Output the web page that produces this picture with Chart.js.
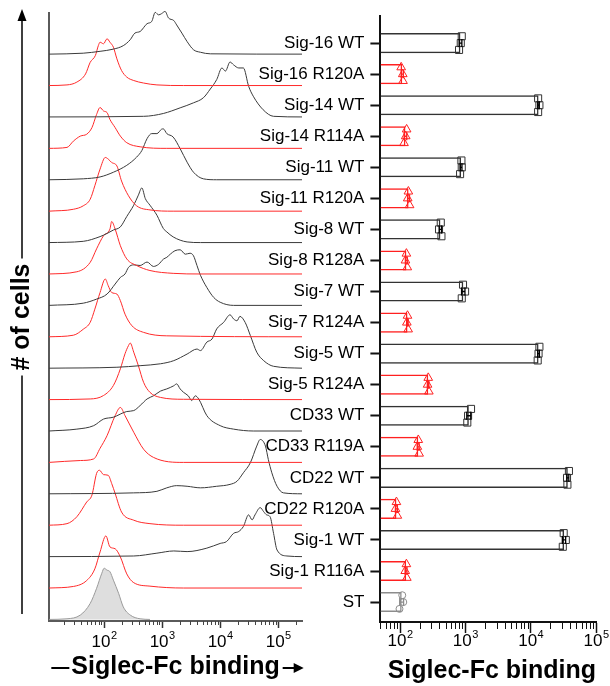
<!DOCTYPE html>
<html>
<head>
<meta charset="utf-8">
<script src="https://cdn.jsdelivr.net/npm/chart.js@4.4.1/dist/chart.umd.min.js"></script>
<style>
  body { margin: 0; background: #fff; }
  #wrap { position: relative; width: 610px; height: 686px; }
  #hist { position: absolute; left: 0; top: 0; }
  #bars { position: absolute; left: 230px; top: 0; }
</style>
</head>
<body>
<div id="wrap">
  <canvas id="hist" width="310" height="686"></canvas>
  <canvas id="bars" width="380" height="686"></canvas>
</div>
<script>
const FONT = '"Liberation Sans", Arial, Helvetica, sans-serif';
Chart.defaults.font.family = FONT;
Chart.defaults.color = '#000';

// rows, top to bottom
const categories = ['Sig-16 WT', 'Sig-16 R120A', 'Sig-14 WT', 'Sig-14 R114A', 'Sig-11 WT', 'Sig-11 R120A',
  'Sig-8 WT', 'Sig-8 R128A', 'Sig-7 WT', 'Sig-7 R124A', 'Sig-5 WT', 'Sig-5 R124A',
  'CD33 WT', 'CD33 R119A', 'CD22 WT', 'CD22 R120A', 'Sig-1 WT', 'Sig-1 R116A', 'ST'];

// bar chart: mean binding and the three replicates
const meanBinding = [840, 108, 13200, 121, 860, 135, 415, 125, 930, 130, 13200, 270, 1130, 190, 37000, 88, 32500, 124, 106];
const rep1 = [880, 104, 13000, 126, 870, 134, 420, 125, 920, 130, 13600, 270, 1220, 190, 38500, 88, 32000, 125, 108];
const rep2 = [850, 110, 13600, 122, 880, 131, 395, 121, 990, 127, 13200, 264, 1100, 184, 36000, 85, 34500, 120, 112];
const rep3 = [800, 111, 13000, 115, 830, 140, 430, 129, 880, 133, 12800, 276, 1070, 196, 36500, 91, 31000, 127, 98];

// tick labels (powers of ten)
const histTickExponents = [2, 3, 4, 5];
const barTickExponents = [2, 3, 4, 5];

// histograms: [log10 intensity, height in row units]
const histSig16WT = [[1.05,0],[1.64,0.03],[1.93,0.09],[2.16,0.16],[2.33,0.27],[2.45,0.46],[2.53,0.67],[2.62,0.72],[2.74,0.97],[2.82,1.04],[2.88,1.33],[2.94,1.25],[2.99,1.29],[3.05,1.36],[3.11,1.15],[3.20,1.07],[3.25,0.93],[3.34,0.67],[3.43,0.40],[3.54,0.14],[3.66,0.06],[3.83,0.01],[5.41,0]];
const histSig16R120A = [[1.05,0],[1.36,0.02],[1.53,0.11],[1.68,0.37],[1.76,0.74],[1.85,0.96],[1.90,1.27],[1.93,1.38],[1.99,1.33],[2.05,1.49],[2.10,1.38],[2.16,1.22],[2.22,0.85],[2.30,0.48],[2.39,0.27],[2.51,0.16],[2.68,0.08],[2.91,0.02],[3.37,0],[5.41,0]];
const histSig14WT = [[1.05,0],[2.68,0.02],[3.02,0.11],[3.31,0.29],[3.54,0.45],[3.71,0.61],[3.83,0.89],[3.94,1.19],[4.03,1.56],[4.09,1.46],[4.17,1.75],[4.23,1.66],[4.32,1.56],[4.40,1.56],[4.49,0.98],[4.57,0.66],[4.74,0.23],[4.92,0.02],[5.41,0]];
const histSig14R114A = [[1.05,0],[1.36,0.03],[1.47,0.23],[1.59,0.39],[1.70,0.45],[1.79,0.66],[1.87,1.08],[1.93,1.30],[1.99,1.19],[2.05,1.14],[2.10,0.92],[2.19,0.66],[2.28,0.39],[2.39,0.18],[2.62,0.05],[3.08,0],[5.41,0]];
const histSig11WT = [[1.05,0],[1.64,0.03],[1.93,0.09],[2.16,0.24],[2.39,0.46],[2.56,0.72],[2.65,0.93],[2.74,1.31],[2.82,1.47],[2.91,1.47],[2.99,1.61],[3.02,1.62],[3.08,1.47],[3.19,1.36],[3.31,0.99],[3.43,0.56],[3.54,0.24],[3.71,0.03],[3.94,0],[5.41,0]];
const histSig11R120A = [[1.05,0],[1.47,0.06],[1.64,0.17],[1.76,0.38],[1.84,0.81],[1.93,1.34],[2.02,1.71],[2.07,1.66],[2.13,1.55],[2.22,1.44],[2.30,0.96],[2.42,0.49],[2.56,0.17],[2.79,0.04],[3.19,0],[5.41,0]];
const histSig8WT = [[1.05,0],[1.64,0.04],[1.93,0.19],[2.05,0.29],[2.16,0.40],[2.28,0.50],[2.39,0.83],[2.51,1.19],[2.59,1.51],[2.65,1.74],[2.71,1.40],[2.79,1.19],[2.91,0.87],[3.02,0.45],[3.08,0.34],[3.19,0.18],[3.43,0.02],[3.66,0],[5.41,0]];
const histSig8R128A = [[1.05,0],[1.53,0.07],[1.76,0.37],[1.87,0.80],[1.99,1.22],[2.10,1.43],[2.13,1.67],[2.19,1.43],[2.28,0.90],[2.39,0.48],[2.56,0.27],[2.79,0.11],[3.19,0.02],[3.66,0],[5.41,0]];
const histSig7WT = [[1.05,0],[1.64,0.07],[1.87,0.20],[2.05,0.36],[2.19,0.68],[2.28,0.89],[2.36,1.00],[2.42,1.21],[2.51,1.29],[2.62,1.27],[2.74,1.38],[2.85,1.24],[2.94,1.31],[3.02,1.47],[3.08,1.53],[3.14,1.63],[3.22,1.74],[3.31,1.77],[3.40,1.63],[3.48,1.66],[3.54,1.58],[3.60,1.27],[3.66,0.96],[3.77,0.57],[3.89,0.25],[4.00,0.10],[4.23,0],[5.41,0]];
const histSig7R124A = [[1.05,0],[1.47,0.05],[1.64,0.24],[1.76,0.46],[1.84,0.88],[1.93,1.41],[2.02,1.84],[2.07,1.63],[2.13,1.41],[2.22,1.36],[2.28,1.15],[2.36,0.72],[2.48,0.35],[2.68,0.14],[3.08,0.03],[5.41,0]];
const histSig5WT = [[1.05,0],[2.22,0.03],[2.62,0.08],[2.97,0.14],[3.20,0.24],[3.43,0.45],[3.60,0.61],[3.66,0.56],[3.77,0.83],[3.86,0.93],[3.94,1.25],[4.06,1.46],[4.17,1.70],[4.23,1.57],[4.29,1.51],[4.34,1.65],[4.43,1.46],[4.52,1.04],[4.63,0.51],[4.75,0.24],[4.92,0.06],[5.41,0]];
const histSig5R124A = [[1.05,0],[1.76,0.02],[1.99,0.13],[2.16,0.45],[2.28,0.98],[2.36,1.46],[2.42,1.72],[2.45,1.80],[2.51,1.51],[2.59,1.08],[2.68,0.55],[2.79,0.23],[2.97,0.07],[3.37,0.01],[5.41,0]];
const histCD33WT = [[1.05,0],[1.53,0.06],[1.82,0.17],[1.99,0.38],[2.16,0.44],[2.39,0.62],[2.51,0.65],[2.62,0.81],[2.74,1.02],[2.85,1.12],[2.97,1.27],[3.08,1.34],[3.20,1.44],[3.25,1.50],[3.31,1.34],[3.37,1.23],[3.45,1.12],[3.51,0.97],[3.57,1.12],[3.63,1.02],[3.77,0.49],[4.00,0.17],[4.23,0.06],[4.57,0],[5.41,0]];
const histCD33R119A = [[1.05,0],[1.59,0.06],[1.82,0.11],[1.93,0.45],[2.05,0.85],[2.19,1.49],[2.28,1.75],[2.36,1.49],[2.51,0.96],[2.68,0.42],[2.85,0.16],[3.37,0],[5.41,0]];
const histCD22WT = [[1.05,0],[2.51,0.03],[2.91,0.08],[3.08,0.19],[3.25,0.26],[3.43,0.24],[3.66,0.19],[3.94,0.24],[4.17,0.30],[4.29,0.40],[4.40,0.67],[4.52,0.99],[4.63,1.52],[4.69,1.73],[4.78,1.52],[4.83,1.09],[4.89,0.67],[4.98,0.24],[5.09,0.03],[5.41,0]];
const histCD22R120A = [[1.05,0],[1.36,0.05],[1.53,0.27],[1.70,0.74],[1.79,0.96],[1.87,1.65],[1.92,1.75],[1.99,1.61],[2.07,1.59],[2.13,1.33],[2.19,1.01],[2.30,0.42],[2.51,0.16],[2.79,0.05],[3.37,0],[5.41,0]];
const histSig1WT = [[1.05,0],[2.51,0.02],[2.91,0.11],[3.20,0.18],[3.43,0.16],[3.77,0.27],[4.00,0.42],[4.11,0.48],[4.23,0.74],[4.32,0.80],[4.40,0.96],[4.49,1.33],[4.55,1.17],[4.60,1.33],[4.69,1.56],[4.75,1.43],[4.80,1.33],[4.86,1.27],[4.92,0.74],[4.98,0.21],[5.15,0.02],[5.41,0]];
const histSig1R116A = [[1.05,0],[1.47,0.05],[1.70,0.24],[1.84,0.61],[1.93,1.15],[2.03,1.66],[2.10,1.31],[2.19,1.25],[2.28,0.99],[2.39,0.45],[2.51,0.17],[2.79,0.06],[3.37,0],[5.41,0]];
const histST = [[1.05,0],[1.36,0.02],[1.59,0.14],[1.76,0.51],[1.87,0.99],[1.96,1.47],[2.00,1.63],[2.05,1.57],[2.10,1.52],[2.16,1.25],[2.25,0.83],[2.33,0.40],[2.45,0.14],[2.62,0.02],[2.79,0]];

const histograms = [histSig16WT, histSig16R120A, histSig14WT, histSig14R114A, histSig11WT, histSig11R120A,
  histSig8WT, histSig8R128A, histSig7WT, histSig7R124A, histSig5WT, histSig5R124A,
  histCD33WT, histCD33R119A, histCD22WT, histCD22R120A, histSig1WT, histSig1R116A, histST];

const BLACK = '#333', RED = '#ff2020', GREY = '#8c8c8c';
const markColor = name => name === 'ST' ? GREY : name.endsWith('WT') ? BLACK : RED;
const markStyle = name => name === 'ST' ? 'circle' : name.endsWith('WT') ? 'rect' : 'triangle';

// "10" with a raised exponent under each major tick
const decadeLabels = {
  id: 'decadeLabels',
  afterDraw(chart, args, opts) {
    const {ctx} = chart;
    const scale = chart.scales.x;
    ctx.save();
    ctx.fillStyle = '#000';
    ctx.textBaseline = 'alphabetic';
    ctx.textAlign = 'left';
    opts.exponents.forEach(e => {
      const x = scale.getPixelForValue(opts.logUnits ? e : Math.pow(10, e));
      ctx.font = '17px ' + FONT;
      const wb = ctx.measureText('10').width;
      ctx.font = '11px ' + FONT;
      const we = ctx.measureText(String(e)).width;
      const left = x - (wb + we) / 2;
      ctx.font = '17px ' + FONT;
      ctx.fillText('10', left, opts.baseline);
      ctx.font = '11px ' + FONT;
      ctx.fillText(String(e), left + wb + 0.5, opts.baseline - 8);
    });
    ctx.restore();
  }
};

// short minor tick marks at 2..9 x 10^n
const minorTicks = {
  id: 'minorTicks',
  afterDraw(chart, args, opts) {
    const {ctx} = chart;
    const scale = chart.scales.x;
    const y0 = scale.top;
    ctx.save();
    ctx.strokeStyle = opts.color;
    ctx.lineWidth = 1;
    for (let n = 0; n <= 5; n++) {
      for (let k = 2; k <= 9; k++) {
        const v = opts.logUnits ? n + Math.log10(k) : k * Math.pow(10, n);
        if (v < scale.min || v > scale.max) continue;
        const x = Math.round(scale.getPixelForValue(v)) + 0.5;
        ctx.beginPath();
        ctx.moveTo(x, y0);
        ctx.lineTo(x, y0 + opts.length);
        ctx.stroke();
      }
    }
    ctx.restore();
  }
};

// the vertical arrow around "# of cells" and the dash / arrow around the x title
const axisArrows = {
  id: 'axisArrows',
  afterDraw(chart, args, opts) {
    const {ctx, chartArea} = chart;
    const yt = chart.scales.y.options.title;
    const xs = chart.scales.x;
    const xt = xs.options.title;
    ctx.save();
    ctx.strokeStyle = '#000';
    ctx.fillStyle = '#000';
    ctx.font = 'bold ' + yt.font.size + 'px ' + FONT;
    const half = ctx.measureText(yt.text).width / 2 + 5;
    const cy = (chartArea.top + chartArea.bottom) / 2;
    const x = opts.x;
    ctx.lineWidth = 1.5;
    ctx.beginPath();
    ctx.moveTo(x, opts.top + 8);
    ctx.lineTo(x, cy - half);
    ctx.moveTo(x, cy + half);
    ctx.lineTo(x, opts.bottom);
    ctx.stroke();
    ctx.beginPath();
    ctx.moveTo(x, opts.top);
    ctx.lineTo(x - 4.5, opts.top + 12);
    ctx.lineTo(x + 4.5, opts.top + 12);
    ctx.closePath();
    ctx.fill();

    // horizontal title: thin dash before, arrow after
    ctx.font = 'bold ' + xt.font.size + 'px ' + FONT;
    const w = ctx.measureText(xt.text).width;
    const cx = (xs.left + xs.right) / 2;
    const ty = opts.titleY;
    const l = cx - w / 2, r = cx + w / 2;
    ctx.lineWidth = 2;
    ctx.beginPath();
    ctx.moveTo(l - 20, ty);
    ctx.lineTo(l - 2, ty);
    ctx.moveTo(r + 3, ty);
    ctx.lineTo(r + 17, ty);
    ctx.stroke();
    ctx.beginPath();
    ctx.moveTo(r + 24, ty);
    ctx.lineTo(r + 14, ty - 5);
    ctx.lineTo(r + 14, ty + 5);
    ctx.closePath();
    ctx.fill();
    ctx.restore();
  }
};

// mean +/- SD error bars for the replicates
const errorBars = {
  id: 'errorBars',
  afterDatasetsDraw(chart) {
    const {ctx} = chart;
    const xs = chart.scales.x, ys = chart.scales.y;
    ctx.save();
    ctx.lineWidth = 1.3;
    categories.forEach((name, i) => {
      const reps = [rep1[i], rep2[i], rep3[i]];
      const m = reps.reduce((a, b) => a + b, 0) / reps.length;
      const sd = Math.sqrt(reps.reduce((a, b) => a + (b - m) * (b - m), 0) / (reps.length - 1));
      const y = ys.getPixelForValue(i);
      const x1 = xs.getPixelForValue(m - sd), x2 = xs.getPixelForValue(m + sd);
      ctx.strokeStyle = name.endsWith('WT') ? '#000' : markColor(name);
      ctx.beginPath();
      ctx.moveTo(x1, y); ctx.lineTo(x2, y);
      ctx.moveTo(x1, y - 4); ctx.lineTo(x1, y + 4);
      ctx.moveTo(x2, y - 4); ctx.lineTo(x2, y + 4);
      ctx.stroke();
    });
    ctx.restore();
  }
};

// ---------- left panel: stacked histograms ----------
const histDatasets = histograms.map((pts, i) => {
  const base = categories.length - 1 - i;
  const name = categories[i];
  const isST = name === 'ST';
  return {
    data: pts.map(([lx, h]) => ({x: lx, y: base + h})),
    borderColor: isST ? '#9a9a9a' : name.endsWith('WT') ? '#3a3a3a' : '#ff2a2a',
    borderWidth: 1,
    backgroundColor: '#dedede',
    fill: isST ? {value: base} : false,
    pointRadius: 0,
    cubicInterpolationMode: 'monotone',
    clip: false
  };
});

new Chart(document.getElementById('hist'), {
  type: 'line',
  data: {datasets: histDatasets},
  options: {
    responsive: false,
    animation: false,
    layout: {padding: {top: 13, right: 8, left: 0, bottom: 0}},
    plugins: {
      legend: {display: false},
      tooltip: {enabled: false},
      decadeLabels: {exponents: histTickExponents, logUnits: true, baseline: 647},
      minorTicks: {logUnits: true, length: 4, color: '#444'},
      axisArrows: {x: 22, top: 9, bottom: 614, titleY: 668}
    },
    scales: {
      x: {
        type: 'linear', min: 1.05, max: 5.41,
        afterBuildTicks: s => { s.ticks = histTickExponents.map(v => ({value: v})); },
        afterFit: s => { s.height = 65; },
        ticks: {display: false},
        grid: {drawOnChartArea: false, tickLength: 7, tickColor: '#333', tickWidth: 1.5},
        border: {color: '#5a5a5a', width: 2},
        title: {display: true, text: 'Siglec-Fc binding', color: '#000',
          font: {size: 25, weight: 'bold'}, padding: {top: 0, bottom: 4}}
      },
      y: {
        type: 'linear', min: -0.05, max: 19.31,
        afterFit: s => { s.width = 49; },
        ticks: {display: false},
        grid: {drawOnChartArea: false, drawTicks: false},
        border: {color: '#5a5a5a', width: 2},
        title: {display: true, text: '# of cells', color: '#000',
          font: {size: 25, weight: 'bold'}, padding: {top: 7, bottom: 0}}
      }
    }
  },
  plugins: [decadeLabels, minorTicks, axisArrows]
});

// ---------- right panel: binding bars ----------
const rowJitter = [-0.22, 0, 0.22];
const pointSets = [rep1, rep2, rep3].map((rep, k) => ({
  type: 'scatter',
  data: rep.map((v, i) => ({x: v, y: i + rowJitter[k]})),
  pointStyle: categories.map(markStyle),
  pointRadius: categories.map(n => markStyle(n) === 'circle' ? 3.5 : 5),
  borderColor: categories.map(markColor),
  backgroundColor: 'rgba(0,0,0,0)',
  borderWidth: 1,
  clip: false,
  order: 1
}));

new Chart(document.getElementById('bars'), {
  type: 'bar',
  data: {
    datasets: [{
      type: 'bar',
      data: meanBinding.map((v, i) => ({x: v, y: i})),
      borderColor: categories.map(markColor),
      backgroundColor: 'rgba(255,255,255,0)',
      borderWidth: 1.5,
      barPercentage: 0.72,
      categoryPercentage: 0.9,
      order: 2
    }, ...pointSets]
  },
  options: {
    indexAxis: 'y',
    responsive: false,
    animation: false,
    layout: {padding: {top: 14, right: 14, left: 0, bottom: 0}},
    plugins: {
      legend: {display: false},
      tooltip: {enabled: false},
      decadeLabels: {exponents: barTickExponents, logUnits: false, baseline: 646},
      minorTicks: {logUnits: false, length: 7, color: '#111'}
    },
    scales: {
      x: {
        type: 'logarithmic', min: 50, max: 100000,
        afterBuildTicks: s => { s.ticks = barTickExponents.map(e => ({value: Math.pow(10, e)})); },
        afterFit: s => { s.height = 64; },
        ticks: {display: false},
        grid: {drawOnChartArea: false, tickLength: 11, tickColor: '#111', tickWidth: 1.5},
        border: {color: '#111', width: 2},
        title: {display: true, text: 'Siglec-Fc binding', align: 'end', color: '#000',
          font: {size: 25, weight: 'bold'}, padding: {top: 0, bottom: 0}}
      },
      y: {
        type: 'linear', reverse: true, min: -0.866, max: 18.642, offset: false,
        afterBuildTicks: s => { s.ticks = categories.map((c, i) => ({value: i})); },
        afterFit: s => { s.width = 150.4; },
        ticks: {callback: v => categories[v], font: {size: 17}, color: '#000', padding: 6},
        grid: {offset: false, drawOnChartArea: false, tickLength: 10, tickColor: '#111', tickWidth: 2},
        border: {color: '#111', width: 2}
      }
    }
  },
  plugins: [decadeLabels, minorTicks, errorBars]
});
</script>
</body>
</html>
